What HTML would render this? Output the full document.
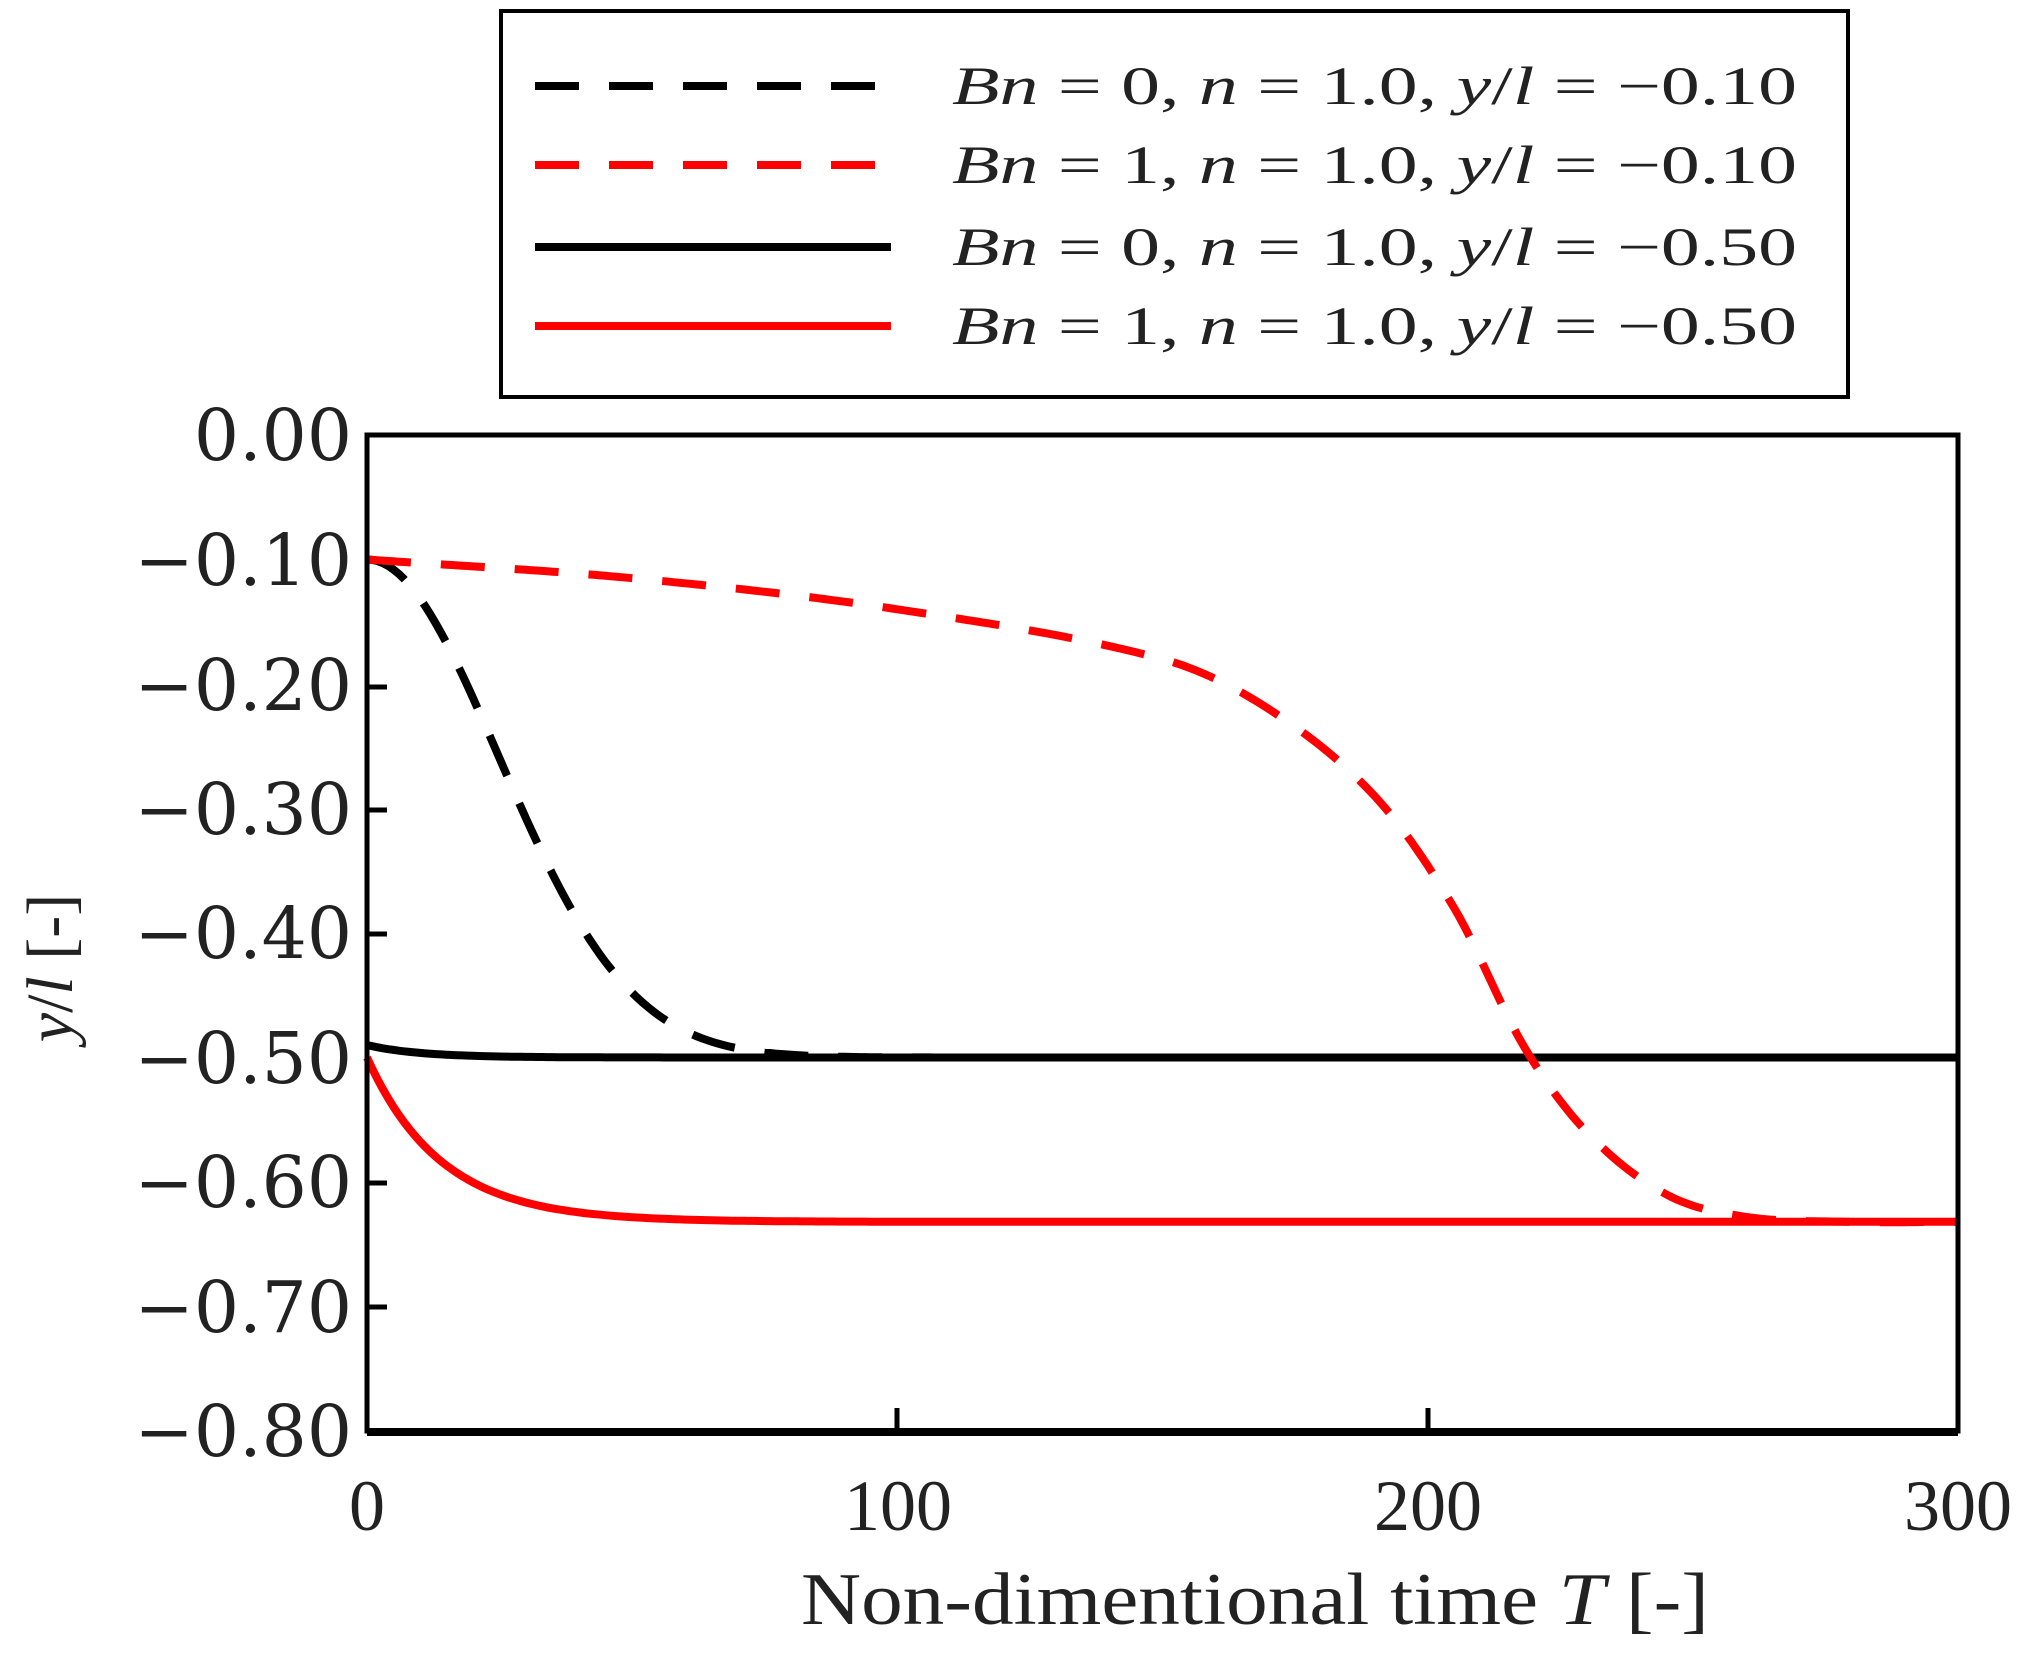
<!DOCTYPE html>
<html><head><meta charset="utf-8"><style>
html,body{margin:0;padding:0;background:#fff}
svg{display:block}
.t{font-family:"DejaVu Serif","Liberation Serif",serif;font-size:71px;fill:#222}
.lg{font-family:"Liberation Serif",serif;font-size:54px;fill:#222}
</style></head><body>
<svg id="s" width="2036" height="1662" viewBox="0 0 2036 1662" xmlns="http://www.w3.org/2000/svg">
<rect x="0" y="0" width="2036" height="1662" fill="#fff"/>
<g id="curves" fill="none" stroke-width="8"></g>
<rect x="367" y="435" width="1591" height="996" fill="none" stroke="#000" stroke-width="5"/>
<line x1="367" y1="1432" x2="1958" y2="1432" stroke="#000" stroke-width="8"/>
<g stroke="#000" stroke-width="5">
<line x1="367" y1="687" x2="387" y2="687"/><line x1="367" y1="810" x2="387" y2="810"/>
<line x1="367" y1="934" x2="387" y2="934"/><line x1="367" y1="1183" x2="387" y2="1183"/>
<line x1="367" y1="1307" x2="387" y2="1307"/>
<line x1="897" y1="1431" x2="897" y2="1408"/><line x1="1428" y1="1431" x2="1428" y2="1408"/>
</g>
<g class="t" text-anchor="end">
<text x="352" y="460">0.00</text><text x="352" y="585">−0.10</text><text x="352" y="710">−0.20</text>
<text x="352" y="834">−0.30</text><text x="352" y="958">−0.40</text><text x="352" y="1083">−0.50</text>
<text x="352" y="1207">−0.60</text><text x="352" y="1332">−0.70</text><text x="352" y="1456">−0.80</text>
</g>
<g text-anchor="middle" style="font-family:'Liberation Serif',serif;font-size:72px;fill:#222">
<text x="367" y="1530">0</text>
<text x="898" y="1530">100</text>
<text x="1428" y="1530">200</text>
<text x="1958" y="1530">300</text>
</g>
<text x="801" y="1624" textLength="908" lengthAdjust="spacingAndGlyphs" style="font-family:'Liberation Serif',serif;font-size:74px;fill:#222">Non-dimentional time <tspan font-style="italic">T</tspan> [-]</text>
<text x="0" y="0" text-anchor="middle" transform="translate(72,968) rotate(-90)" style="font-family:'Liberation Serif',serif;font-size:66px;fill:#222"><tspan font-style="italic">y</tspan>/<tspan font-style="italic">l</tspan> [-]</text>
<rect x="501" y="11" width="1347" height="386" fill="#fff" stroke="#000" stroke-width="4"/>
<g stroke-width="8">
<line x1="535" y1="86" x2="891" y2="86" stroke="#000" stroke-dasharray="44,30"/>
<line x1="535" y1="165" x2="891" y2="165" stroke="#f00" stroke-dasharray="44,30"/>
<line x1="535" y1="247" x2="891" y2="247" stroke="#000"/>
<line x1="535" y1="326" x2="891" y2="326" stroke="#f00"/>
</g>
<g class="lg">
<text x="952" y="104" textLength="845" lengthAdjust="spacingAndGlyphs"><tspan font-style="italic">Bn</tspan> = 0, <tspan font-style="italic">n</tspan> = 1.0, <tspan font-style="italic">y</tspan>/<tspan font-style="italic">l</tspan> = −0.10</text>
<text x="952" y="183" textLength="845" lengthAdjust="spacingAndGlyphs"><tspan font-style="italic">Bn</tspan> = 1, <tspan font-style="italic">n</tspan> = 1.0, <tspan font-style="italic">y</tspan>/<tspan font-style="italic">l</tspan> = −0.10</text>
<text x="952" y="265" textLength="845" lengthAdjust="spacingAndGlyphs"><tspan font-style="italic">Bn</tspan> = 0, <tspan font-style="italic">n</tspan> = 1.0, <tspan font-style="italic">y</tspan>/<tspan font-style="italic">l</tspan> = −0.50</text>
<text x="952" y="344" textLength="845" lengthAdjust="spacingAndGlyphs"><tspan font-style="italic">Bn</tspan> = 1, <tspan font-style="italic">n</tspan> = 1.0, <tspan font-style="italic">y</tspan>/<tspan font-style="italic">l</tspan> = −0.50</text>
</g>
</svg>
<script>
(function(){
var X=function(t){return 367+t*1591/300;},Y=function(v){return 435-v*1245;};
function fpath(f){var d="";for(var t=0;t<=300;t+=1){d+=(t?"L":"M")+X(t).toFixed(1)+","+Y(f(t)).toFixed(1);}return d;}
var rp=[[0,-0.10],[50,-0.115],[100,-0.14],[150,-0.18],[170,-0.22],[190,-0.29],[205,-0.38],[218,-0.49],[230,-0.56],[245,-0.61],[260,-0.628],[280,-0.632],[300,-0.632]];
function cr(t){for(var i=0;i<rp.length-1;i++){if(t<=rp[i+1][0]){var p0=rp[Math.max(i-1,0)],p1=rp[i],p2=rp[i+1],p3=rp[Math.min(i+2,rp.length-1)];var u=(t-p1[0])/(p2[0]-p1[0]);var h=p2[0]-p1[0];var m1=(p2[1]-p0[1])/(p2[0]-p0[0])*h,m2=(p3[1]-p1[1])/(p3[0]-p1[0])*h;var u2=u*u,u3=u2*u;return (2*u3-3*u2+1)*p1[1]+(u3-2*u2+u)*m1+(-2*u3+3*u2)*p2[1]+(u3-u2)*m2;}}return -0.632;}
var S=[
[function(t){return -0.49-0.01*(1-Math.exp(-t/10));},"#000",""],
[function(t){return -0.5-0.132*(1-Math.exp(-t/14));},"#f00",""],
[function(t){return -0.1-0.4*(1-Math.exp(-Math.pow(t/35,2)));},"#000","44,30"],
[cr,"#f00","44,30"]];
var g=document.getElementById("curves"),ns="http://www.w3.org/2000/svg";
S.forEach(function(s){var p=document.createElementNS(ns,"path");p.setAttribute("d",fpath(s[0]));p.setAttribute("stroke",s[1]);if(s[2])p.setAttribute("stroke-dasharray",s[2]);g.appendChild(p);});
})();
</script>
</body></html>
